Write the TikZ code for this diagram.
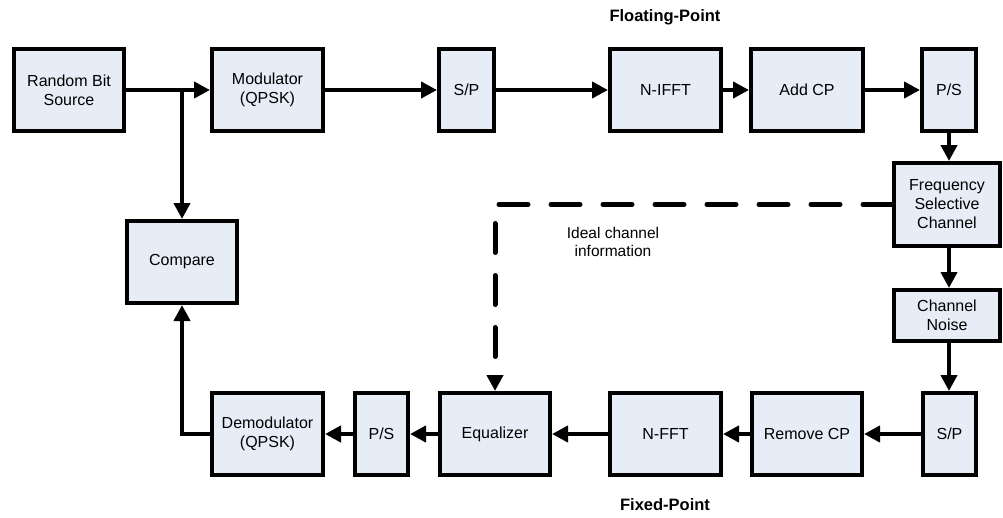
\documentclass[tikz,border=0pt]{standalone}
\usepackage{fontspec}
\setmainfont{Liberation Sans}
\usetikzlibrary{arrows.meta}
\definecolor{boxfill}{RGB}{231,237,247}
\begin{document}
\begin{tikzpicture}[x=1pt,y=-1pt,
  blk/.style={draw=black, line width=4pt, fill=boxfill, inner sep=0pt,
    align=center, font=\fontsize{16}{19}\selectfont, minimum height=82pt},
  flow/.style={line width=4pt, -{Triangle[length=16pt,width=16pt]}},
  chan/.style={line width=5pt, line cap=round, dash pattern=on 29pt off 23pt,
    -{Triangle[length=16pt,width=16pt]}},
  caption/.style={font=\bfseries\fontsize{16.5}{19}\selectfont},
  note/.style={align=center, font=\fontsize{15.5}{18.5}\selectfont}]
\useasboundingbox (0,0) rectangle (1003,517);

% transmitter chain
\node[blk, minimum width=110pt] (src)  at (69,90)    {Random Bit\\Source};
\node[blk, minimum width=111pt] (mod)  at (267.5,90) {Modulator\\(QPSK)};
\node[blk, minimum width=55pt]  (sp1)  at (466.5,90) {S/P};
\node[blk, minimum width=111pt] (ifft) at (665.5,90) {N-IFFT};
\node[blk, minimum width=112pt] (acp)  at (807,90)   {Add CP};
\node[blk, minimum width=54pt]  (ps1)  at (949,90)   {P/S};

% channel
\node[blk, minimum width=106pt, minimum height=83pt] (freq)  at (947,204.5) {Frequency\\Selective\\Channel};
\node[blk, minimum width=106pt, minimum height=51pt] (noise) at (947,315.5) {Channel\\Noise};

% receiver chain
\node[blk, minimum width=53pt]  (sp2) at (949.5,434) {S/P};
\node[blk, minimum width=110pt] (rcp) at (807,434)   {Remove CP};
\node[blk, minimum width=111pt] (fft) at (665.5,434) {N-FFT};
\node[blk, minimum width=110pt] (eq)  at (495,434)   {Equalizer};
\node[blk, minimum width=53pt]  (ps2) at (381.5,434) {P/S};
\node[blk, minimum width=111pt] (dem) at (267.5,434) {Demodulator\\(QPSK)};

\node[blk, minimum width=110pt] (cmp) at (182,262) {Compare};

% labels
\node[caption] (fp) at (665,17)  {Floating-Point};
\node[caption] (fx) at (665,505) {Fixed-Point};
\node[note] (info) at (613,242) {Ideal channel\\information};

% forward path
\coordinate (j) at (src.east -| cmp.north);
\draw[flow] (src) -- (mod);
\draw[flow] (j) -- (cmp.north);
\draw[flow] (mod) -- (sp1);
\draw[flow] (sp1) -- (ifft);
\draw[flow] (ifft) -- (acp);
\draw[flow] (acp) -- (ps1);
\draw[flow] (ps1.south) -- (ps1.south |- freq.north);
\draw[flow] (ps1 |- freq.south) -- (ps1 |- noise.north);
\draw[flow] (ps1 |- noise.south) -- (ps1 |- sp2.north);

% return path
\draw[flow] (sp2) -- (rcp);
\draw[flow] (rcp) -- (fft);
\draw[flow] (fft) -- (eq);
\draw[flow] (eq) -- (ps2);
\draw[flow] (ps2) -- (dem);
\draw[flow] (dem.west) -| (cmp.south);

% channel state to the equalizer
\draw[chan] (freq.west) -- (freq.west -| eq.north) -- (eq.north);
\end{tikzpicture}
\end{document}
